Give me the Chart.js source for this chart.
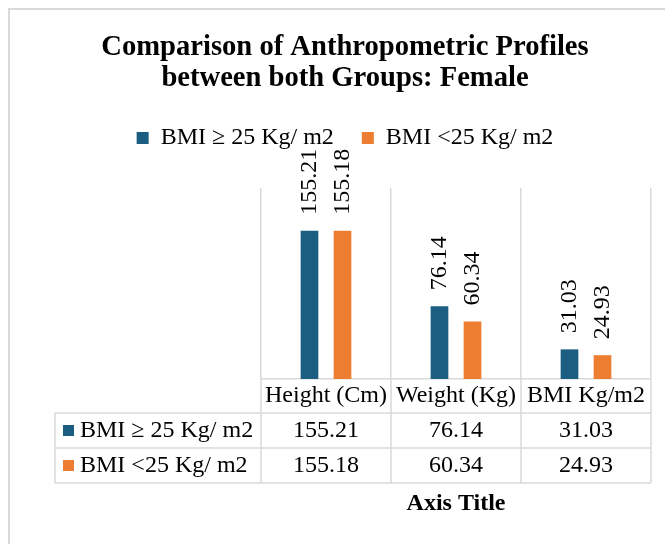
<!DOCTYPE html>
<html>
<head>
<meta charset="utf-8">
<title>Comparison of Anthropometric Profiles between both Groups: Female</title>
<script src="https://cdn.jsdelivr.net/npm/chart.js@4/dist/chart.umd.min.js"></script>
<style>
  html, body { margin: 0; padding: 0; background: #ffffff; }
  canvas { display: block; }
</style>
</head>
<body>
<canvas id="chart" width="665" height="544"></canvas>
<script>
// Measures compared for each group
const categories = ['Height (Cm)', 'Weight (Kg)', 'BMI Kg/m2'];
const seriesNames = ['BMI \u2265 25 Kg/ m2', 'BMI <25 Kg/ m2'];
// Mean values per measure
const overweightValues = [155.21, 76.14, 31.03];
const normalWeightValues = [155.18, 60.34, 24.93];
const seriesValues = [overweightValues, normalWeightValues];

const SERIF = "'Liberation Serif', 'Times New Roman', Times, serif";
const TEXT_SIZE = 24;
const COLORS = ['#1b5e82', '#ed7d31'];
const LINE = '#d9d9d9';

Chart.defaults.color = '#000000';
Chart.defaults.font.family = SERIF;

// Light frame around the whole chart
const framePlugin = {
  id: 'frame',
  beforeDraw(chart) {
    const { ctx } = chart;
    ctx.save();
    ctx.fillStyle = '#ffffff';
    ctx.fillRect(0, 0, chart.width, chart.height);
    ctx.strokeStyle = LINE;
    ctx.lineWidth = 2;
    ctx.strokeRect(9, 9, chart.width + 40, chart.height + 40);
    ctx.restore();
  }
};

// Extra room between the legend and the plot
const legendSpacer = {
  id: 'legendSpacer',
  beforeInit(chart) {
    const fit = chart.legend.fit;
    chart.legend.fit = function () {
      fit.call(this);
      this.height += 28;
    };
  }
};

// Rotated value labels above each bar
const valueLabels = {
  id: 'valueLabels',
  afterDatasetsDraw(chart) {
    const { ctx } = chart;
    ctx.save();
    ctx.font = TEXT_SIZE + 'px ' + SERIF;
    ctx.fillStyle = '#000000';
    ctx.textAlign = 'left';
    ctx.textBaseline = 'middle';
    chart.data.datasets.forEach((ds, di) => {
      const meta = chart.getDatasetMeta(di);
      meta.data.forEach((bar, i) => {
        ctx.save();
        ctx.translate(bar.x, bar.y - 16);
        ctx.rotate(-Math.PI / 2);
        ctx.fillText(ds.data[i].toFixed(2), 0, 0);
        ctx.restore();
      });
    });
    ctx.restore();
  }
};

// Data table under the category axis
const dataTable = {
  id: 'dataTable',
  afterDraw(chart) {
    const { ctx, chartArea } = chart;
    const x = chart.scales.x;
    const n = categories.length;
    const edges = [];
    for (let i = 0; i <= n; i++) edges.push(x.getPixelForValue(i - 0.5));
    const tableLeft = 55;
    const top = chartArea.bottom;
    const rows = [top, top + 34, top + 69, top + 104];
    const right = edges[n];

    ctx.save();
    ctx.strokeStyle = LINE;
    ctx.lineWidth = 1.5;
    ctx.beginPath();
    for (let r = 1; r < rows.length; r++) {
      ctx.moveTo(tableLeft, rows[r]);
      ctx.lineTo(right, rows[r]);
    }
    edges.forEach(ex => {
      ctx.moveTo(ex, rows[0]);
      ctx.lineTo(ex, rows[3]);
    });
    ctx.moveTo(tableLeft, rows[1]);
    ctx.lineTo(tableLeft, rows[3]);
    ctx.stroke();

    ctx.font = TEXT_SIZE + 'px ' + SERIF;
    ctx.fillStyle = '#000000';
    ctx.textBaseline = 'middle';
    ctx.textAlign = 'center';
    categories.forEach((c, i) => {
      ctx.fillText(c, (edges[i] + edges[i + 1]) / 2, (rows[0] + rows[1]) / 2);
    });

    seriesNames.forEach((name, s) => {
      const mid = (rows[s + 1] + rows[s + 2]) / 2;
      ctx.fillStyle = COLORS[s];
      ctx.fillRect(tableLeft + 8, mid - 5.5, 11, 11);
      ctx.fillStyle = '#000000';
      ctx.textAlign = 'left';
      ctx.fillText(name, tableLeft + 25, mid);
      ctx.textAlign = 'center';
      seriesValues[s].forEach((v, i) => {
        ctx.fillText(v.toFixed(2), (edges[i] + edges[i + 1]) / 2, mid);
      });
    });
    ctx.restore();
  }
};

new Chart(document.getElementById('chart'), {
  type: 'bar',
  data: {
    labels: categories,
    datasets: seriesNames.map((name, s) => ({
      label: name,
      data: seriesValues[s],
      backgroundColor: COLORS[s],
      borderWidth: 0,
      categoryPercentage: 0.508,
      barPercentage: 0.536
    }))
  },
  options: {
    responsive: false,
    animation: false,
    layout: { padding: { top: 10, left: 39, right: 14, bottom: 26.1 } },
    plugins: {
      tooltip: { enabled: false },
      title: {
        display: true,
        text: ['Comparison of Anthropometric Profiles', 'between both Groups: Female'],
        font: { family: SERIF, size: 28.6, weight: 'bold', lineHeight: 31 / 28.6 },
        color: '#000000',
        padding: { top: 22, bottom: 4 }
      },
      legend: {
        position: 'top',
        labels: {
          boxWidth: 12,
          boxHeight: 12,
          padding: 28,
          color: '#000000',
          font: { family: SERIF, size: TEXT_SIZE }
        }
      }
    },
    scales: {
      x: {
        offset: true,
        grid: { display: true, offset: true, color: LINE, lineWidth: 1.5, drawTicks: false },
        border: { display: true, color: LINE, width: 1.5 },
        ticks: { display: false },
        title: {
          display: true,
          text: 'Axis Title',
          color: '#000000',
          font: { family: SERIF, size: TEXT_SIZE, weight: 'bold', lineHeight: 1.2 },
          padding: { top: 110.1, bottom: 0 }
        }
      },
      y: {
        min: 0,
        max: 200,
        grid: { display: false },
        border: { display: false },
        ticks: { display: false },
        afterFit(scale) { scale.width = 222; }
      }
    }
  },
  plugins: [framePlugin, legendSpacer, valueLabels, dataTable]
});
</script>
</body>
</html>
